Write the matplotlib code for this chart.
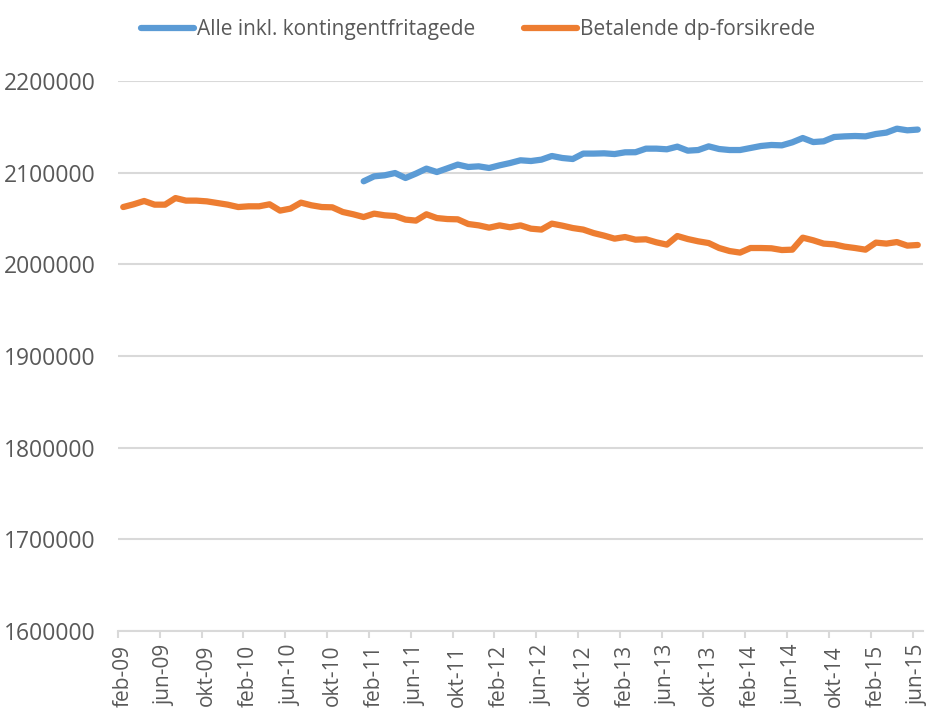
import numpy as np
import matplotlib.pyplot as plt

# monthly series, feb-09 .. jun-15 (77 months)
betalende = [
    2062500, 2065500, 2069100, 2065100, 2065100, 2072300, 2069500, 2069500, 2068700, 2066900,
    2065100, 2062500, 2063300, 2063300, 2065500, 2058600, 2060800, 2067300, 2064400, 2062500,
    2062200, 2057100, 2054600, 2051600, 2055300, 2053500, 2052700, 2048800, 2047700, 2054600,
    2050500, 2049400, 2049100, 2044000, 2042500, 2040000, 2042500, 2040400, 2042500, 2038900,
    2037900, 2044400, 2042200, 2039600, 2037900, 2034100, 2031300, 2028000, 2029800, 2026900,
    2027300, 2024000, 2021500, 2030900, 2027600, 2025100, 2023200, 2017800, 2014500, 2012800,
    2017800, 2017800, 2017500, 2015600, 2016000, 2029100, 2026200, 2022600, 2021800, 2019300,
    2017800, 2016000, 2023700, 2022600, 2024300, 2020400, 2021100,
]
# "Alle inkl." starts in jan-11 (month index 23)
alle_start = 23
alle = [
    2090600, 2096000, 2097100, 2099600, 2094200, 2099000, 2104400, 2100700, 2104700, 2108800,
    2106200, 2106900, 2105100, 2108000, 2110500, 2113500, 2112700, 2114200, 2118200, 2116000,
    2114900, 2120800, 2120800, 2121100, 2120300, 2122200, 2122300, 2126200, 2126200, 2125500,
    2128400, 2124000, 2124700, 2128700, 2125800, 2124700, 2124700, 2126900, 2129100, 2130200,
    2129800, 2133100, 2137800, 2133400, 2134200, 2138900, 2139600, 2140000, 2139600, 2142200,
    2143700, 2148000, 2146200, 2147000,
]
tick_labels = ["feb-09", "jun-09", "okt-09", "feb-10", "jun-10", "okt-10", "feb-11",
               "jun-11", "okt-11", "feb-12", "jun-12", "okt-12", "feb-13", "jun-13",
               "okt-13", "feb-14", "jun-14", "okt-14", "feb-15", "jun-15"]

BLUE, ORANGE, GRID, TXT = "#5B9BD5", "#ED7D31", "#D9D9D9", "#595959"
plt.rcParams["font.family"] = ["Open Sans", "DejaVu Sans"]

n = len(betalende)
x = np.arange(n)
alle_full = np.full(n, np.nan)
alle_full[alle_start:alle_start + len(alle)] = alle

fig = plt.figure(figsize=(9.31, 7.09), dpi=100)
ax = fig.add_axes([118 / 931, 1 - 631 / 709, (923 - 118) / 931, (631 - 81) / 709])

ax.plot(x, alle_full, color=BLUE, lw=4.5, solid_capstyle="round", solid_joinstyle="round",
        label="Alle inkl. kontingentfritagede")
ax.plot(x, betalende, color=ORANGE, lw=4.5, solid_capstyle="round", solid_joinstyle="round",
        label="Betalende dp-forsikrede")

ax.set_xlim(-0.5, n - 0.5)
ax.set_ylim(1600000, 2200000)
ax.set_yticks(np.arange(1600000, 2200001, 100000))
ax.yaxis.set_major_formatter(plt.FuncFormatter(lambda v, p: f"{v:.0f}"))
ax.grid(axis="y", color=GRID, lw=1.5)
ax.set_axisbelow(True)

# labels at category centres, tick marks at category boundaries
ax.set_xticks(x[::4])
ax.set_xticklabels(tick_labels, rotation=90, va="top", ha="center")
ax.set_xticks(np.arange(-0.5, n - 1, 4), minor=True)
ax.tick_params(axis="x", which="major", length=0, pad=10, labelsize=15, colors=TXT)
ax.tick_params(axis="x", which="minor", length=5, width=1.5, color=GRID)
ax.tick_params(axis="y", length=0, pad=16, labelsize=16.5, colors=TXT)

for s in ["top", "right", "left"]:
    ax.spines[s].set_visible(False)
ax.spines["bottom"].set_color(GRID)
ax.spines["bottom"].set_linewidth(1.5)

fig.legend(loc="center", bbox_to_anchor=(478 / 931, 1 - 30 / 709), ncol=2, frameon=False,
           fontsize=15, labelcolor=TXT, handlelength=2.55, handletextpad=0.15,
           columnspacing=2.35)

fig.savefig("out.png", dpi=100)
